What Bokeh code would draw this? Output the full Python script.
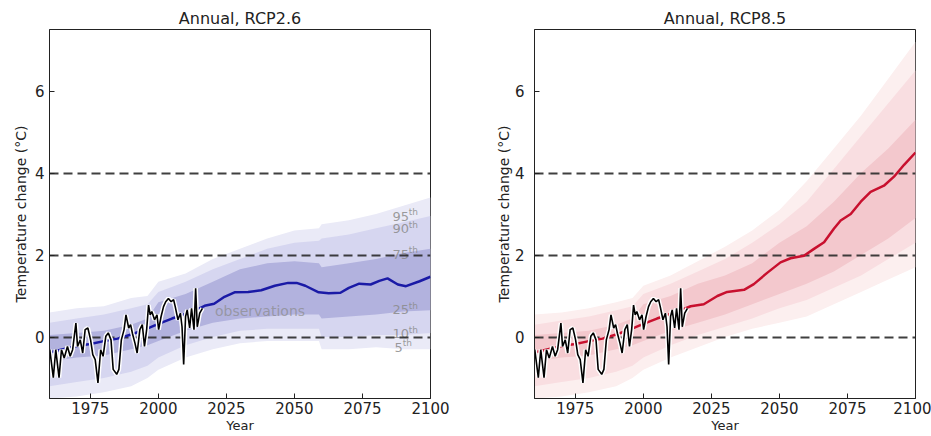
from bokeh.plotting import figure
from bokeh.layouts import row
from bokeh.models import Range1d, FixedTicker
from bokeh.embed import file_html
from bokeh.resources import INLINE
from bokeh.core.properties import value

FONT = "DejaVu Sans"

# ---------------- data ----------------
x_ticks = [1975, 2000, 2025, 2050, 2075, 2100]
y_ticks = [0, 2, 4, 6]
threshold_levels = [0, 2, 4]
titles = ["Annual, RCP2.6", "Annual, RCP8.5"]

obs_year = [1960.1, 1961.4, 1962.3, 1963.5, 1964.4, 1965.4, 1966.6, 1967.6, 1968.5, 1969.7,
            1970.3, 1971.3, 1972.2, 1973.1, 1974.1, 1975.1, 1975.9, 1976.8, 1977.8, 1978.8,
            1979.7, 1980.7, 1981.6, 1982.6, 1983.4, 1984.7, 1985.5, 1986.4, 1987.4, 1988.1,
            1989.1, 1989.8, 1990.5, 1991.4, 1992.2, 1993.2, 1994.1, 1994.9, 1995.7, 1996.4,
            1997.0, 1997.6, 1998.6, 1999.5, 2000.1, 2001.0, 2001.9, 2002.7, 2003.7, 2004.7,
            2005.6, 2006.2, 2007.2, 2008.1, 2008.7, 2009.3, 2010.0, 2010.6, 2011.5, 2012.2,
            2013.1, 2013.7, 2014.3, 2015.2, 2016.2]
obs_value = [-0.31, -0.99, -0.31, -0.99, -0.31, -0.51, -0.23, -0.47, -0.31, 0.34,
             -0.23, -0.07, -0.39, 0.18, 0.22, -0.07, -0.43, -0.55, -1.12, -0.31,
             -0.47, 0.02, 0.10, -0.07, -0.79, -0.91, -0.79, -0.07, 0.18, 0.54,
             0.22, 0.30, 0.08, -0.15, -0.39, 0.18, 0.30, -0.23, 0.18, 0.78,
             0.54, 0.62, 0.42, 0.54, 0.18, 0.50, 0.74, 0.86, 0.94, 0.86,
             0.91, 0.74, 0.42, 0.58, 0.25, -0.67, 0.50, 0.66, 0.22, 0.70,
             0.18, 1.19, 0.25, 0.58, 0.70]

rcp26_center_year = [1960, 1965, 1970, 1975, 1980, 1985, 1990, 1995, 2000, 2005, 2010, 2014,
                     2017, 2020.5, 2024.3, 2028, 2033, 2037.8, 2042.8, 2047.7, 2050.8, 2054,
                     2058.9, 2062.6, 2066.9, 2070, 2073.8, 2078, 2081.2, 2084.2, 2088, 2091,
                     2096, 2100]
rcp26_center = [-0.38, -0.30, -0.22, -0.17, -0.10, -0.04, 0.06, 0.18, 0.32, 0.45, 0.56, 0.66,
                0.76, 0.81, 0.98, 1.09, 1.10, 1.14, 1.25, 1.32, 1.32, 1.25,
                1.09, 1.07, 1.08, 1.20, 1.30, 1.28, 1.37, 1.43, 1.28, 1.24,
                1.36, 1.47]

rcp85_center_year = [1960, 1965, 1970, 1975, 1980, 1985, 1990, 1995, 2000, 2005, 2010, 2014,
                     2017.4, 2022.2, 2027.2, 2030.8, 2037, 2040.6, 2045.6, 2050.4, 2054.1,
                     2059, 2062.7, 2066.4, 2070, 2072.5, 2076.2, 2079.9, 2083.5, 2088.4,
                     2092.1, 2095.8, 2100]
rcp85_center = [-0.38, -0.30, -0.22, -0.17, -0.10, -0.04, 0.06, 0.18, 0.32, 0.45, 0.56, 0.66,
                0.75, 0.80, 1.00, 1.10, 1.15, 1.29, 1.57, 1.82, 1.92,
                1.98, 2.15, 2.31, 2.64, 2.84, 3.00, 3.30, 3.54, 3.69,
                3.91, 4.20, 4.50]

rcp26_band_year = [1960, 1970, 1980, 1990, 1996, 2000, 2010, 2020, 2030, 2040, 2050, 2059,
                   2060, 2070, 2080, 2090, 2100]
rcp26_p95 = [0.60, 0.70, 0.75, 0.95, 1.00, 1.35, 1.55, 1.90, 2.15, 2.40, 2.60, 2.65, 2.75, 2.85, 3.00, 3.20, 3.40]
rcp26_p90 = [0.35, 0.45, 0.55, 0.70, 0.80, 1.10, 1.35, 1.65, 1.90, 2.15, 2.30, 2.35, 2.40, 2.50, 2.65, 2.80, 2.95]
rcp26_p75 = [0.05, 0.10, 0.15, 0.30, 0.45, 0.85, 1.05, 1.35, 1.65, 1.80, 1.85, 1.80, 1.70, 1.80, 1.90, 2.05, 2.15]
rcp26_p25 = [-0.60, -0.50, -0.45, -0.30, -0.20, -0.10, 0.15, 0.35, 0.45, 0.50, 0.55, 0.55, 0.45, 0.50, 0.55, 0.62, 0.65]
rcp26_p10 = [-1.20, -1.10, -1.00, -0.85, -0.70, -0.50, -0.20, 0.00, 0.15, 0.20, 0.20, 0.20, 0.00, 0.00, 0.05, 0.05, 0.10]
rcp26_p5 = [-1.50, -1.45, -1.35, -1.20, -1.00, -0.80, -0.50, -0.30, -0.15, -0.10, -0.10, -0.10, -0.30, -0.30, -0.25, -0.30, -0.30]

rcp85_band_year = [1960, 1970, 1980, 1990, 1996, 2000, 2010, 2020, 2030, 2040, 2050, 2060,
                   2070, 2080, 2090, 2100]
rcp85_p95 = [0.55, 0.60, 0.70, 0.85, 0.95, 1.25, 1.50, 1.85, 2.20, 2.60, 3.10, 3.80, 4.60, 5.40, 6.30, 7.20]
rcp85_p90 = [0.30, 0.40, 0.50, 0.65, 0.75, 1.05, 1.30, 1.60, 1.90, 2.30, 2.75, 3.30, 4.10, 4.90, 5.70, 6.50]
rcp85_p75 = [0.05, 0.10, 0.15, 0.30, 0.45, 0.80, 1.00, 1.30, 1.50, 1.80, 2.30, 2.70, 3.30, 4.00, 4.60, 5.30]
rcp85_p25 = [-0.60, -0.50, -0.45, -0.30, -0.20, -0.10, 0.15, 0.35, 0.55, 0.80, 1.05, 1.30, 1.60, 2.00, 2.40, 2.90]
rcp85_p10 = [-1.20, -1.10, -1.00, -0.85, -0.70, -0.50, -0.20, 0.05, 0.25, 0.45, 0.70, 0.90, 1.20, 1.50, 1.90, 2.30]
rcp85_p5 = [-1.50, -1.45, -1.35, -1.20, -1.00, -0.80, -0.50, -0.25, 0.00, 0.20, 0.35, 0.50, 0.80, 1.10, 1.40, 1.70]

pct_label_num = ["95", "90", "75", "25", "10", "5"]
pct_label_year = [2086, 2086, 2086, 2086, 2086, 2086.8]
pct_label_value = [2.95, 2.64, 2.02, 0.66, 0.08, -0.25]
obs_label = ["observations"]
obs_label_year = [2020.8]
obs_label_value = [0.64]


def base_figure(title, width, border_left, border_right, tick_standoff, label_standoff):
    p = figure(width=width, height=436, x_range=Range1d(1960, 2100), y_range=Range1d(-1.5, 7.5),
               title=title, output_backend="svg", toolbar_location=None,
               min_border_left=border_left, min_border_right=border_right,
               min_border_top=29, min_border_bottom=38)
    p.grid.visible = False
    p.outline_line_color = "#222222"
    p.outline_line_width = 1
    p.title.align = "center"
    p.title.text_font = FONT
    p.title.text_font_size = "16px"
    p.title.text_font_style = "normal"
    p.title.text_color = "#222222"
    p.title.standoff = 4
    p.xaxis.ticker = FixedTicker(ticks=x_ticks)
    p.yaxis.ticker = FixedTicker(ticks=y_ticks)
    p.xaxis.axis_label = "Year"
    p.yaxis.axis_label = "Temperature change (°C)"
    for ax in (p.xaxis[0], p.yaxis[0]):
        ax.major_tick_in = 5
        ax.major_tick_out = 0
        ax.minor_tick_line_color = None
        ax.axis_line_color = "#222222"
        ax.major_tick_line_color = "#222222"
        ax.major_label_text_font = FONT
        ax.major_label_text_font_size = "15px"
        ax.major_label_text_color = "#222222"
        ax.axis_label_text_font = FONT
        ax.axis_label_text_font_style = "normal"
        ax.axis_label_text_color = "#222222"
    p.xaxis.axis_label_text_font_size = "13px"
    p.yaxis.axis_label_text_font_size = "14px"
    p.xaxis.major_label_standoff = 3
    p.xaxis.axis_label_standoff = 1
    p.yaxis.major_label_standoff = tick_standoff
    p.yaxis.axis_label_standoff = label_standoff
    return p


def add_bands(p, yr, p5, p10, p25, p75, p90, p95, colors):
    p.varea(x=yr, y1=p5, y2=p95, fill_color=colors[0])
    p.varea(x=yr, y1=p10, y2=p90, fill_color=colors[1])
    p.varea(x=yr, y1=p25, y2=p75, fill_color=colors[2])


def add_thresholds(p):
    p.hspan(y=threshold_levels, line_color="#2a2a2a", line_width=2, line_dash="9 5", line_alpha=0.9)


def add_obs(p):
    p.line(obs_year, obs_value, line_color="white", line_width=4.5)
    p.line(obs_year, obs_value, line_color="black", line_width=1.6)


# ---------------- left panel: RCP2.6 ----------------
p1 = base_figure(titles[0], 460, 49, 30, 5, 3)
add_bands(p1, rcp26_band_year, rcp26_p5, rcp26_p10, rcp26_p25, rcp26_p75, rcp26_p90, rcp26_p95,
          ["#eaeaf7", "#d6d6f0", "#b2b2de"])
p1.text(x=pct_label_year, y=pct_label_value, text=pct_label_num, text_font=value(FONT),
        text_font_size="13px", text_color="#8a8a8a", text_alpha=0.85,
        text_baseline="middle", text_align="left")
p1.text(x=pct_label_year, y=pct_label_value, text=["th"] * len(pct_label_num),
        x_offset=[8.2 * len(s) for s in pct_label_num], y_offset=-4,
        text_font=value(FONT), text_font_size="9px", text_color="#8a8a8a", text_alpha=0.85,
        text_baseline="middle", text_align="left")
p1.text(x=obs_label_year, y=obs_label_value, text=obs_label, text_font=value(FONT),
        text_font_size="14px", text_color="#8a8a8a", text_alpha=0.7,
        text_baseline="middle", text_align="left")
add_thresholds(p1)
p1.line(rcp26_center_year, rcp26_center, line_color="#1a1aa6", line_width=2.5)
add_obs(p1)

# ---------------- right panel: RCP8.5 ----------------
p2 = base_figure(titles[1], 471, 74, 16, 10, 0)
add_bands(p2, rcp85_band_year, rcp85_p5, rcp85_p10, rcp85_p25, rcp85_p75, rcp85_p90, rcp85_p95,
          ["#fcefef", "#f9dee1", "#f3c8cd"])
add_thresholds(p2)
p2.line(rcp85_center_year, rcp85_center, line_color="#c8102e", line_width=2.5)
add_obs(p2)

layout = row(p1, p2)
open("out.html", "w").write(file_html(layout, INLINE))
